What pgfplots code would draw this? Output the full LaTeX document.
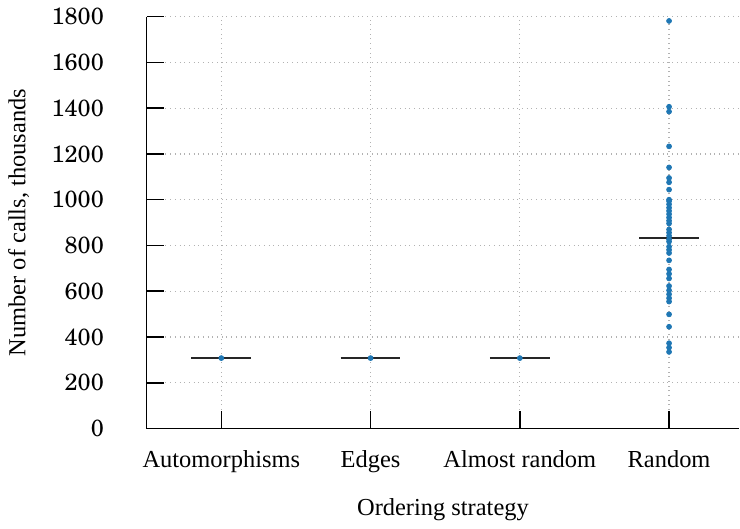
\documentclass[border=0pt]{standalone}
\usepackage{fontspec}
\setmainfont{Liberation Serif}
\newfontfamily\numfont{TeX Gyre Schola}
\usepackage{pgfplots}
\pgfplotsset{compat=1.18}
\definecolor{dotblue}{RGB}{31,119,180}
\begin{document}
\fontsize{12.5}{14}\selectfont
\begin{tikzpicture}
\begin{axis}[
  scale only axis, width=302bp, height=210bp,
  xmin=-0.5, xmax=3.47, ymin=0, ymax=1800,
  axis x line*=bottom, axis y line*=left,
  axis line style={line width=0.8pt, -},
  xtick={0,1,2,3},
  xticklabels={Automorphisms,Edges,Almost random,Random},
  ytick={0,200,...,1800},
  tick align=inside, major tick length=9bp,
  tick style={black, line width=0.8pt},
  grid=major, grid style={dotted, black!30, line width=0.6pt},
  xlabel={Ordering strategy}, ylabel={Number of calls, thousands},
  /pgf/number format/assume math mode=true,
  /pgf/number format/1000 sep={},
  xticklabel style={yshift=-7bp, font=\fontsize{12.5}{14}\selectfont},
  yticklabel style={xshift=-17.5bp, font=\numfont\fontsize{12}{14}\selectfont},
  xlabel style={yshift=-4.5bp, font=\fontsize{12.5}{14}\selectfont},
  ylabel style={yshift=3bp, font=\fontsize{12.5}{14}\selectfont},
]
% medians
\addplot[black!85, line width=0.8pt] coordinates {(-0.2,308) (0.2,308)};
\addplot[black!85, line width=0.8pt] coordinates {(0.8,308) (1.2,308)};
\addplot[black!85, line width=0.8pt] coordinates {(1.8,308) (2.2,308)};
\addplot[black!85, line width=0.8pt] coordinates {(2.8,832) (3.2,832)};
% points
\addplot[only marks, mark=*, mark size=1.25pt, color=dotblue] coordinates {
(0,308) (1,308) (2,308)
(3,1781) (3,1406) (3,1385) (3,1233) (3,1141) (3,1095) (3,1076) (3,1044)
(3,1000) (3,994) (3,980) (3,965) (3,951) (3,937) (3,922) (3,908) (3,896)
(3,870) (3,856) (3,842) (3,827) (3,817)
(3,795) (3,781) (3,767) (3,735)
(3,695) (3,676) (3,656)
(3,623) (3,604) (3,587) (3,570) (3,555)
(3,499) (3,445) (3,373) (3,354) (3,335)
};
\end{axis}
\end{tikzpicture}
\end{document}
